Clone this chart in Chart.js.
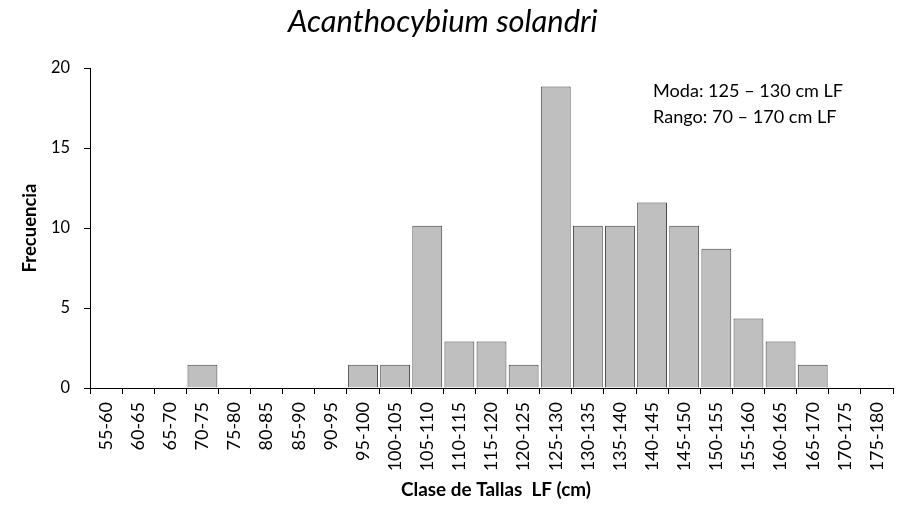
<!DOCTYPE html>
<html>
<head>
<meta charset="utf-8">
<script src="https://cdn.jsdelivr.net/npm/chart.js@4/dist/chart.umd.min.js"></script>
<style>
html,body{margin:0;padding:0;background:#fff;}
#wrap{position:relative;width:901px;height:505px;}
</style>
</head>
<body>
<div id="wrap"><canvas id="c" width="901" height="505"></canvas></div>
<script>
const categories = ["55-60","60-65","65-70","70-75","75-80","80-85","85-90","90-95","95-100","100-105","105-110","110-115","115-120","120-125","125-130","130-135","135-140","140-145","145-150","150-155","155-160","160-165","165-170","170-175","175-180"];
const frecuencia = [0,0,0,1.45,0,0,0,0,1.45,1.45,10.14,2.9,2.9,1.45,18.84,10.14,10.14,11.59,10.14,8.7,4.35,2.9,1.45,0,0];
const yTicks = [0,5,10,15,20];
const titleText = "Acanthocybium solandri";
const xTitle = "Clase de Tallas  LF (cm)";
const yTitle = "Frecuencia";
const notes = ["Moda: 125 \u2013 130 cm LF", "Rango: 70 \u2013 170 cm LF"];

const FAMILY = "Lato, 'Open Sans', 'Liberation Sans', sans-serif";
const mctx = document.createElement('canvas').getContext('2d');
function fit(text, style, target) {
  mctx.font = style + " 100px " + FAMILY;
  const w = mctx.measureText(text).width;
  return Math.round(100 * target / w * 10) / 10;
}
const sTitle = fit(titleText, "italic", 310);
const sNote = fit(notes[0], "normal", 190);
const sXTitle = fit(xTitle, "bold", 190);
const sYTitle = fit(yTitle, "bold", 89);
const sXTick = 18;
const sYTick = fit("20", "normal", 19);

const textPlugin = {
  id: 'texts',
  afterDraw(chart) {
    const ctx = chart.ctx;
    ctx.save();
    ctx.fillStyle = '#000';
    ctx.textBaseline = 'alphabetic';
    ctx.font = "italic " + sTitle + "px " + FAMILY;
    ctx.textAlign = 'left';
    ctx.fillText(titleText, 288, 32);
    ctx.font = sNote + "px " + FAMILY;
    ctx.fillText(notes[0], 653, 97);
    ctx.fillText(notes[1], 653, 123);
    ctx.font = "bold " + sXTitle + "px " + FAMILY;
    ctx.textAlign = 'center';
    ctx.fillText(xTitle, 496, 496);
    ctx.font = "bold " + sYTitle + "px " + FAMILY;
    ctx.textBaseline = 'middle';
    ctx.translate(30, 228);
    ctx.rotate(-Math.PI / 2);
    ctx.fillText(yTitle, 0, 0);
    ctx.restore();
  }
};

new Chart(document.getElementById('c'), {
  type: 'bar',
  data: {
    labels: categories,
    datasets: [{
      data: frecuencia,
      backgroundColor: '#BFBFBF',
      borderColor: '#404040',
      borderWidth: 1,
      categoryPercentage: 1,
      barPercentage: 0.93
    }]
  },
  options: {
    responsive: false,
    animation: false,
    devicePixelRatio: 1,
    layout: { padding: { left: 0, right: 8, top: 68, bottom: 0 } },
    plugins: { legend: { display: false }, title: { display: false }, tooltip: { enabled: false } },
    scales: {
      x: {
        offset: true,
        grid: { display: true, offset: true, drawOnChartArea: false, drawTicks: true, tickLength: 6, color: '#000', lineWidth: 1 },
        border: { display: true, color: '#000', width: 1 },
        ticks: { color: '#000', font: { family: FAMILY, size: sXTick }, minRotation: 90, maxRotation: 90, autoSkip: false, padding: 8 },
        afterFit(s) { s.height = 117; s.paddingLeft = 0; s.paddingRight = 0; }
      },
      y: {
        min: 0, max: 20,
        afterBuildTicks(s) { s.ticks = yTicks.map(v => ({ value: v })); },
        grid: { display: true, drawOnChartArea: false, drawTicks: true, tickLength: 6, color: '#000', lineWidth: 1 },
        border: { display: true, color: '#000', width: 1 },
        ticks: { color: '#000', font: { family: FAMILY, size: sYTick }, padding: 14 },
        afterFit(s) { s.width = 90; s.paddingTop = 0; s.paddingBottom = 0; }
      }
    }
  },
  plugins: [textPlugin]
});
</script>
</body>
</html>
